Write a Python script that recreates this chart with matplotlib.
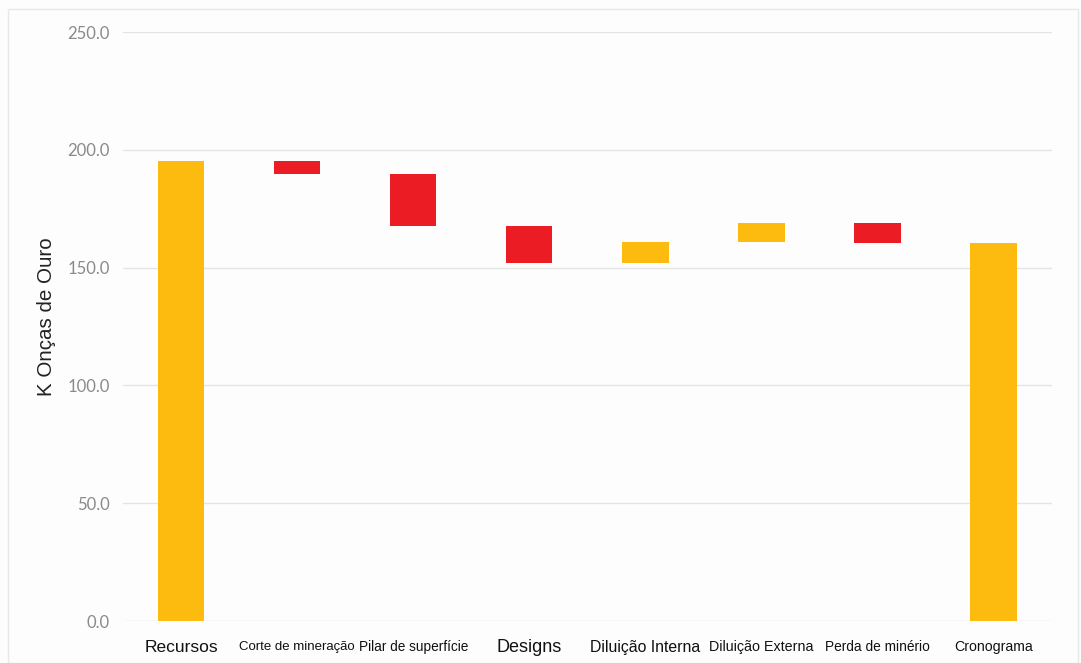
import matplotlib.pyplot as plt
import numpy as np

categorias = ['Recursos', 'Corte de mineração', 'Pilar de superfície', 'Designs',
              'Diluição Interna', 'Diluição Externa', 'Perda de minério', 'Cronograma']
inicio = 195.2
variacoes = [-5.3, -22.2, -15.7, 8.9, 8.1, -8.6]
final = 160.4
tamanhos = [12.5, 9.5, 9.8, 13, 11.4, 10.3, 9.9, 10.2]

amarelo = '#FDBB10'
vermelho = '#EC1C24'

# niveis acumulados para a cascata
niveis = np.concatenate([[inicio], inicio + np.cumsum(variacoes)])
alturas = [inicio]
bases = [0.0]
cores = [amarelo]
for i, d in enumerate(variacoes):
    alturas.append(abs(d))
    bases.append(min(niveis[i], niveis[i + 1]))
    cores.append(amarelo if d > 0 else vermelho)
alturas.append(final)
bases.append(0.0)
cores.append(amarelo)

fig = plt.figure(figsize=(10.81, 6.63), dpi=100)
fig.patch.set_facecolor('#fdfdfd')
ax = fig.add_axes([0.1138, 0.0633, 0.859, 0.8884])
ax.set_facecolor('#fdfdfd')

x = np.arange(len(categorias))
ax.bar(x, alturas, bottom=bases, color=cores, width=0.4, zorder=2)

ax.set_xlim(-0.5, len(categorias) - 0.5)
ax.set_ylim(0, 250)
ax.set_yticks(np.arange(0, 251, 50))
ax.set_yticklabels(['%.1f' % v for v in np.arange(0, 251, 50)],
                   fontfamily='Lato', fontsize=12, color='#8a8a8a')
ax.tick_params(axis='y', length=0, pad=9.5)
ax.tick_params(axis='x', length=0, pad=18.7)
ax.grid(axis='y', color='#e4e4e4', linewidth=1, zorder=0)
for s in ax.spines.values():
    s.set_visible(False)

ax.set_xticks(x)
ax.set_xticklabels(categorias)
for lab, t in zip(ax.get_xticklabels(), tamanhos):
    lab.set_fontfamily('Liberation Sans')
    lab.set_fontsize(t)
    lab.set_color('#111111')
    lab.set_verticalalignment('center')

ax.set_ylabel('K Onças de Ouro', fontfamily='Liberation Sans', fontsize=14.8, color='#222222')
ax.yaxis.set_label_coords(-0.072, 0.516)

# moldura clara em volta
fig.add_artist(plt.Rectangle((0.007, 0.0), 0.99, 0.987, transform=fig.transFigure,
                             fill=False, edgecolor='#e8e8e8', linewidth=1))

fig.savefig('out.png', dpi=100, facecolor=fig.get_facecolor())
